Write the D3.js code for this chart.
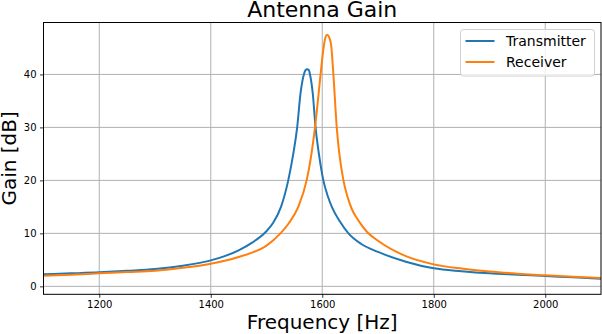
<!DOCTYPE html>
<html>
<head>
<meta charset="utf-8">
<script src="https://cdn.jsdelivr.net/npm/d3@7"></script>
<style>
  body { margin: 0; background: #fff; }
  svg { display: block; font-family: "DejaVu Sans", sans-serif; }
</style>
</head>
<body>
<div id="chart"></div>
<script>
// Values
const txFreq = [1100, 1150, 1200, 1250, 1300, 1350, 1400, 1425, 1450, 1475, 1498, 1512, 1526, 1539, 1548, 1555, 1561, 1567, 1570, 1573, 1576, 1578, 1583, 1588, 1594, 1602, 1610, 1618, 1632, 1647, 1670, 1700, 1750, 1800, 1850, 1900, 1950, 2000, 2050, 2100];
const txGain = [2.28, 2.45, 2.64, 2.93, 3.27, 3.9, 4.9, 5.7, 6.8, 8.3, 10.2, 12, 15, 20, 25, 30, 36.4, 40, 40.8, 41, 40.8, 40, 36.4, 30, 25, 20, 17, 14.8, 12.2, 10, 8, 6.5, 4.65, 3.4, 2.85, 2.45, 2.2, 1.95, 1.7, 1.45];

const rxFreq = [1100, 1150, 1200, 1250, 1300, 1350, 1400, 1425, 1450, 1475, 1500, 1525, 1540, 1557, 1572, 1579, 1587, 1597, 1600, 1603, 1606, 1609, 1612, 1616, 1618, 1620, 1626, 1638, 1645, 1653, 1665, 1680, 1700, 1750, 1800, 1850, 1900, 1950, 2000, 2050, 2100];
const rxGain = [2.0, 2.2, 2.45, 2.7, 2.96, 3.5, 4.28, 4.85, 5.55, 6.4, 7.7, 10, 11.9, 15, 20, 23.9, 30, 40, 43, 45.5, 47.1, 47.5, 47.1, 45.5, 43, 40, 30, 20, 17, 14.6, 12.4, 10.3, 8.6, 5.7, 4.15, 3.35, 2.8, 2.4, 2.08, 1.8, 1.57];

const seriesNames = ['Transmitter', 'Receiver'];
const seriesColors = ['#1f77b4', '#ff7f0e'];
const xTicks = [1200, 1400, 1600, 1800, 2000];
const yTicks = [0, 10, 20, 30, 40];

const width = 602, height = 334;
const margin = { top: 22.5, right: 1, bottom: 39.7, left: 43.5 };
const plotW = width - margin.left - margin.right;
const plotH = height - margin.top - margin.bottom;

const svg = d3.select('#chart').append('svg')
    .attr('width', width)
    .attr('height', height);

const x = d3.scaleLinear().domain([1100, 2100]).range([0, plotW]);
const y = d3.scaleLinear().domain([-1.5, 49.8]).range([plotH, 0]);

const g = svg.append('g')
    .attr('transform', `translate(${margin.left},${margin.top})`);

// grid
g.append('g').selectAll('line').data(xTicks).enter().append('line')
    .attr('x1', d => x(d)).attr('x2', d => x(d))
    .attr('y1', 0).attr('y2', plotH)
    .attr('stroke', '#b0b0b0').attr('stroke-width', 1);
g.append('g').selectAll('line').data(yTicks).enter().append('line')
    .attr('y1', d => y(d)).attr('y2', d => y(d))
    .attr('x1', 0).attr('x2', plotW)
    .attr('stroke', '#b0b0b0').attr('stroke-width', 1);

// clip
svg.append('defs').append('clipPath').attr('id', 'plot-clip')
    .append('rect').attr('width', plotW).attr('height', plotH);

const line = d3.line()
    .x(d => x(d[0]))
    .y(d => y(d[1]))
    .curve(d3.curveMonotoneX);

const series = [
    d3.zip(txFreq, txGain),
    d3.zip(rxFreq, rxGain)
];

g.append('g').attr('clip-path', 'url(#plot-clip)')
    .selectAll('path').data(series).enter().append('path')
    .attr('d', line)
    .attr('fill', 'none')
    .attr('stroke', (d, i) => seriesColors[i])
    .attr('stroke-width', 2)
    .attr('stroke-linejoin', 'round');

// axes
const xAxis = g.append('g')
    .attr('transform', `translate(0,${plotH})`)
    .call(d3.axisBottom(x).tickValues(xTicks).tickFormat(d3.format('d')).tickSize(3.5).tickPadding(3.5));
const yAxis = g.append('g')
    .call(d3.axisLeft(y).tickValues(yTicks).tickFormat(d3.format('d')).tickSize(3.5).tickPadding(3.5));
[xAxis, yAxis].forEach(a => {
    a.select('.domain').remove();
    a.selectAll('text').style('font-family', '"DejaVu Sans", sans-serif').style('font-size', '10px').attr('fill', '#000');
    a.selectAll('line').attr('stroke', '#000').attr('stroke-width', 0.8);
});

// frame
g.append('rect')
    .attr('width', plotW).attr('height', plotH)
    .attr('fill', 'none').attr('stroke', '#000').attr('stroke-width', 1);

// title and labels
svg.append('text')
    .attr('x', margin.left + plotW / 2).attr('y', 17)
    .attr('text-anchor', 'middle')
    .style('font-size', '22px')
    .text('Antenna Gain');

svg.append('text')
    .attr('x', margin.left + plotW / 2).attr('y', 329)
    .attr('text-anchor', 'middle')
    .style('font-size', '20px')
    .text('Frequency [Hz]');

svg.append('text')
    .attr('transform', `translate(15.5,${margin.top + plotH / 2}) rotate(-90)`)
    .attr('text-anchor', 'middle')
    .style('font-size', '20px')
    .text('Gain [dB]');

// legend
const legend = svg.append('g').attr('transform', 'translate(460.5,29.5)');
legend.append('rect')
    .attr('width', 134).attr('height', 46.5)
    .attr('rx', 3).attr('ry', 3)
    .attr('fill', '#fff').attr('fill-opacity', 0.8)
    .attr('stroke', '#d0d0d0').attr('stroke-width', 1);

seriesNames.forEach((name, i) => {
    const row = legend.append('g').attr('transform', `translate(0,${11.5 + i * 21})`);
    row.append('line')
        .attr('x1', 5).attr('x2', 34)
        .attr('stroke', seriesColors[i]).attr('stroke-width', 2);
    row.append('text')
        .attr('x', 45.5).attr('y', 5)
        .style('font-size', '14px')
        .text(name);
});
</script>
</body>
</html>
